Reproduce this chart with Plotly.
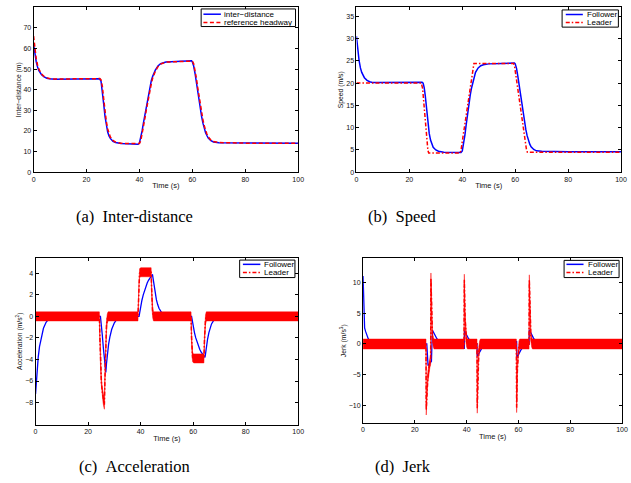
import plotly.graph_objects as go

W, H = 631, 483

# ---------------- (a) Inter-distance ----------------
dist_t = [0, 0.5, 1, 1.5, 2, 3, 4, 5, 6, 8, 15, 25, 25.5, 26, 26.5, 27, 27.5, 28, 28.5, 29,
          30, 31, 33, 36, 39.5, 40, 40.5, 41, 41.5, 42, 42.5, 43, 43.5, 44, 44.5, 45, 46, 47, 48, 50,
          55, 59.7, 60, 60.5, 61, 61.5, 62, 62.5, 63, 63.5, 64, 64.5, 65, 65.5, 66, 67, 68, 70, 80, 100]
dist_follow = [62, 57, 53.5, 51, 49.3, 47.3, 46.2, 45.6, 45.3, 45.1, 45.1, 45.3, 44, 39.5, 33, 27, 22.5, 19.5, 17.6, 16.4,
               15, 14.4, 13.9, 13.7, 13.6, 14.2, 16.5, 20, 23.8, 27.5, 31.5, 35, 38.5, 41.5, 44.5, 46.5, 49.5, 51.5, 52.6, 53.4,
               53.8, 54, 53.5, 51.5, 48, 43.5, 39, 34.5, 30.5, 27, 23.8, 21.2, 19.2, 17.8, 16.6, 15.3, 14.7, 14.3, 14.1, 14.0]
headway_ref = [66, 59.5, 55, 52, 50, 47.7, 46.4, 45.8, 45.4, 45.2, 45.2, 45.4, 44.8, 41.5, 35.5, 29.5, 24.5, 21, 18.6, 17.1,
               15.4, 14.6, 14, 13.8, 13.7, 13.9, 15.2, 18.2, 21.8, 25.6, 29.5, 33.3, 36.8, 40, 43, 45.6, 49, 51.2, 52.4, 53.4,
               53.8, 54.1, 53.9, 52.6, 49.8, 45.8, 41.3, 36.8, 32.6, 28.8, 25.4, 22.5, 20.2, 18.5, 17.2, 15.6, 14.9, 14.4, 14.1, 14.0]

# ---------------- (b) Speed ----------------
speed_t = [0, 0.5, 1, 1.5, 2, 3, 4, 5, 6, 8, 15, 24.8, 25.2, 25.6, 26, 26.5, 27, 27.5, 28, 28.5,
           29, 30, 31, 33, 39.5, 40, 40.5, 41, 41.5, 42, 42.5, 43, 43.5, 44, 44.5, 45, 46, 47, 48, 50,
           55, 59.7, 60, 60.5, 61, 61.5, 62, 62.5, 63, 63.5, 64, 64.5, 65, 65.5, 66, 67, 68, 70, 80, 100]
speed_follow = [30.5, 27.3, 25.0, 23.4, 22.4, 21.2, 20.6, 20.3, 20.15, 20.1, 20.1, 20.2, 20.0, 19.0, 17.2, 14.0, 11.0, 8.7, 7.2, 6.2,
                5.6, 5.0, 4.7, 4.5, 4.4, 4.8, 6.3, 8.4, 10.8, 13.2, 15.4, 17.3, 18.9, 20.3, 21.5, 22.4, 23.4, 23.9, 24.1, 24.3,
                24.4, 24.5, 24.3, 23.3, 21.5, 19.4, 17.2, 15.0, 13.0, 11.2, 9.6, 8.2, 7.1, 6.3, 5.7, 5.1, 4.8, 4.7, 4.6, 4.6]
lead_speed_t = [0, 24.5, 25.0, 25.5, 26.0, 26.5, 27.0, 27.3, 39.2, 39.6, 44.0, 44.4, 59.4, 59.8, 64.2, 64.6, 100]
lead_speed = [20, 20, 18.8, 15.2, 11.2, 7.4, 4.9, 4.3, 4.3, 5.3, 23.6, 24.4, 24.4, 23.6, 5.3, 4.5, 4.5]

# ---------------- (c) Acceleration ----------------
acc_t = [0, 0.3, 0.6, 1, 1.5, 2, 2.5, 3, 4, 5, 6, 7, 24.7, 25, 25.4, 25.8, 26.2, 26.6, 26.75, 27,
         27.4, 27.8, 28.3, 29, 30, 31, 32, 33, 39.4, 39.7, 40, 40.5, 41, 41.5, 42, 42.5, 43, 43.5, 44, 44.5,
         44.7, 45, 45.5, 46, 46.5, 47, 48, 49, 50, 51, 59.4, 59.7, 60, 60.5, 61, 61.5, 62, 62.5, 63, 63.5,
         64, 64.5, 64.7, 65, 65.5, 66, 66.5, 67, 68, 69, 70, 71, 100]
acc_follow = [-7.2, -5.8, -4.8, -3.8, -2.8, -2.1, -1.5, -1.1, -0.55, -0.25, -0.1, 0, 0, -0.6, -1.7, -2.9, -4.1, -5.1, -5.2, -4.4,
              -3.4, -2.6, -1.9, -1.2, -0.6, -0.25, -0.05, 0, 0, 0.5, 0.9, 1.5, 2.0, 2.4, 2.8, 3.1, 3.35, 3.55, 3.75, 3.9,
              3.6, 3.0, 2.2, 1.55, 1.1, 0.75, 0.35, 0.12, 0.03, 0, 0, -0.5, -0.9, -1.5, -2.0, -2.4, -2.75, -3.05, -3.3, -3.5,
              -3.65, -3.8, -3.5, -2.9, -2.1, -1.5, -1.05, -0.7, -0.3, -0.1, -0.02, 0, 0]
lead_acc_t = [0, 24.3, 24.5, 24.7, 24.9, 25.1, 25.4, 25.7, 26.0, 26.2, 26.4, 26.6, 26.8, 27.0, 27.3, 27.6,
              39.0, 39.2, 39.4, 39.6, 40.0, 44.0, 44.2, 44.4, 44.6, 44.9,
              59.2, 59.4, 59.6, 59.8, 60.2, 64.1, 64.3, 64.5, 64.7, 65.0, 100]
lead_acc = [0, 0, -2, -4, -5.5, -6.3, -7.0, -7.6, -8.0, -8.2, -6.0, -3.8, -2.0, -0.9, -0.2, 0,
            0, 2.2, 3.5, 4.0, 4.1, 4.1, 2.5, 1.0, 0.3, 0,
            0, -2.0, -3.3, -3.8, -3.9, -3.9, -2.3, -0.9, -0.3, 0, 0]
lead_acc_noise = 0.42

# ---------------- (d) Jerk ----------------
jerk_t = [0, 0.2, 0.4, 0.6, 1, 1.5, 2, 2.5, 3, 4, 5, 6, 24.6, 24.8, 25.1, 25.5, 26, 26.4, 26.6, 26.8,
          27.2, 27.6, 28, 28.5, 29, 30, 31, 32, 33, 39.0, 39.1, 39.2, 39.7, 40.2, 40.7, 41.2, 41.7, 42.7, 43.7, 44.0,
          44.1, 44.6, 45.2, 45.7, 46.2, 46.7, 47.7, 48.7, 49.7, 59.2, 59.3, 59.4, 59.9, 60.4, 60.9, 61.4, 61.9, 62.9, 63.9, 64.1,
          64.2, 64.7, 65.3, 65.8, 66.3, 66.8, 67.8, 68.8, 69.8, 100]
jerk_follow = [11, 6, 3.3, 2.6, 2.0, 1.35, 0.85, 0.55, 0.32, 0.1, 0.02, 0, 0, -2.5, -3.5, -3.3, -3.0, -2.8, 0, 2.2,
               1.9, 1.5, 1.2, 0.85, 0.6, 0.3, 0.12, 0.04, 0, 0, -0.8, 2.1, 1.6, 1.2, 0.9, 0.6, 0.4, 0.15, 0.05, 0.05,
               -2.0, -1.55, -1.1, -0.8, -0.55, -0.38, -0.15, -0.05, 0, 0, 0.5, -2.2, -1.7, -1.3, -1.0, -0.7, -0.5, -0.2, -0.06, -0.06,
               2.3, 1.8, 1.3, 0.95, 0.65, 0.45, 0.18, 0.06, 0, 0]
lead_jerk_t = [0, 24.3, 24.4, 24.7, 25.0, 25.4, 25.8, 26.1, 26.2, 26.5, 26.8, 27.1, 27.4,
               39.0, 39.1, 39.4, 39.7, 40.0, 40.3, 44.0, 44.1, 44.4, 44.7, 45.0, 45.3,
               59.2, 59.3, 59.6, 59.9, 60.2, 60.5, 64.1, 64.2, 64.5, 64.8, 65.1, 65.4, 100]
lead_jerk = [0, 0, -10.7, -7.5, -5.5, -4.0, -3.0, -2.5, 10.7, 4.0, 1.2, 0.3, 0,
             0, 10.5, 4.0, 1.2, 0.3, 0, 0, -10.4, -4.0, -1.2, -0.3, 0,
             0, -10.3, -4.0, -1.2, -0.3, 0, 0, 10.4, 4.0, 1.2, 0.3, 0, 0]
lead_jerk_noise = 0.8

x_ticks = [0, 20, 40, 60, 80, 100]
captions = ["(a)\u00a0\u00a0Inter-distance", "(b)\u00a0\u00a0Speed", "(c)\u00a0\u00a0Acceleration", "(d)\u00a0\u00a0Jerk"]

BLUE = "#0000FF"
RED = "#FF0000"
DASHDOT = "4px,2px,1.5px,2px"
DASH = "4px,2.5px"


def PX(x):
    return x / W


def PY(y):
    return 1 - y / H


def band(t, v, half):
    hi = [a + half for a in v]
    lo = [a - half for a in v]
    return t + t[::-1], hi + lo[::-1]


fig = go.Figure()

# (a)
fig.add_trace(go.Scatter(x=dist_t, y=dist_follow, mode="lines", name="inter\u2212distance",
                         line=dict(color=BLUE, width=1.5), xaxis="x", yaxis="y"))
fig.add_trace(go.Scatter(x=dist_t, y=headway_ref, mode="lines", name="reference headway",
                         line=dict(color=RED, width=1.5, dash=DASH), xaxis="x", yaxis="y"))
# (b)
fig.add_trace(go.Scatter(x=speed_t, y=speed_follow, mode="lines", name="Follower",
                         line=dict(color=BLUE, width=1.5), xaxis="x2", yaxis="y2"))
fig.add_trace(go.Scatter(x=lead_speed_t, y=lead_speed, mode="lines", name="Leader",
                         line=dict(color=RED, width=1.5, dash=DASHDOT), xaxis="x2", yaxis="y2"))
# (c)
fig.add_trace(go.Scatter(x=acc_t, y=acc_follow, mode="lines", name="Follower",
                         line=dict(color=BLUE, width=1.3), xaxis="x3", yaxis="y3"))
bx, by = band(lead_acc_t, lead_acc, lead_acc_noise)
fig.add_trace(go.Scatter(x=bx, y=by, mode="lines", fill="toself", fillcolor=RED,
                         line=dict(color=RED, width=0.5), hoverinfo="skip", showlegend=False,
                         xaxis="x3", yaxis="y3"))
fig.add_trace(go.Scatter(x=lead_acc_t, y=lead_acc, mode="lines", name="Leader",
                         line=dict(color=RED, width=1.5, dash=DASHDOT), xaxis="x3", yaxis="y3"))
# (d)
fig.add_trace(go.Scatter(x=jerk_t, y=jerk_follow, mode="lines", name="Follower",
                         line=dict(color=BLUE, width=1.3), xaxis="x4", yaxis="y4"))
bx, by = band(lead_jerk_t, lead_jerk, lead_jerk_noise)
fig.add_trace(go.Scatter(x=bx, y=by, mode="lines", fill="toself", fillcolor=RED,
                         line=dict(color=RED, width=0.5), hoverinfo="skip", showlegend=False,
                         xaxis="x4", yaxis="y4"))
fig.add_trace(go.Scatter(x=lead_jerk_t, y=lead_jerk, mode="lines", name="Leader",
                         line=dict(color=RED, width=1.5, dash=DASHDOT), xaxis="x4", yaxis="y4"))

tickfont = dict(family="Liberation Sans, Arial, sans-serif", size=7, color="#111")
titlefont = dict(family="Liberation Sans, Arial, sans-serif", size=7.5, color="#111")


def xax(domain, anchor):
    return dict(domain=domain, anchor=anchor, range=[0, 100], tickvals=x_ticks,
                showline=True, linecolor="black", linewidth=1, mirror="ticks",
                ticks="inside", ticklen=3, tickcolor="black", tickwidth=1,
                showgrid=False, zeroline=False, tickfont=tickfont,
                title=dict(text="Time (s)", font=titlefont, standoff=1))


def yax(domain, anchor, rng, tv, title):
    return dict(domain=domain, anchor=anchor, range=rng, tickvals=tv,
                showline=True, linecolor="black", linewidth=1, mirror="ticks",
                ticks="inside", ticklen=3, tickcolor="black", tickwidth=1,
                showgrid=False, zeroline=False, tickfont=tickfont,
                title=dict(text=title, font=dict(family="Liberation Sans, Arial, sans-serif", size=6.8, color="#111"),
                           standoff=1))


fig.update_layout(
    width=W, height=H, autosize=False, showlegend=False,
    margin=dict(l=0, r=0, t=0, b=0),
    paper_bgcolor="white", plot_bgcolor="white",
    xaxis=xax([PX(32), PX(300)], "y"),
    yaxis=yax([PY(173.3), PY(7.3)], "x", [0, 80], [0, 10, 20, 30, 40, 50, 60, 70], "Inter\u2212distance (m)"),
    xaxis2=xax([PX(359), PX(627)], "y2"),
    yaxis2=yax([PY(173.3), PY(7.3)], "x2", [0, 37], [0, 5, 10, 15, 20, 25, 30, 35], "Speed (m/s)"),
    xaxis3=xax([PX(34), PX(300)], "y3"),
    yaxis3=yax([PY(427.3), PY(259.3)], "x3", [-10.05, 5.45], [-8, -6, -4, -2, 0, 2, 4], "Acceleration (m/s<sup>2</sup>)"),
    xaxis4=xax([PX(365.7), PX(628)], "y4"),
    yaxis4=yax([PY(425.7), PY(260)], "x4", [-12.8, 13.86], [-10, -5, 0, 5, 10], "Jerk (m/s<sup>3</sup>)"),
)

# Legends (MATLAB-style compact boxes)
legends = [
    ((201.7, 9, 297.3, 26.7), (204, 221.7), (14.3, 22.7), 222.7,
     [("inter\u2212distance", BLUE, "solid"), ("reference headway", RED, DASH)]),
    ((567.3, 10, 624.3, 27.3), (571, 588.3), (14.6, 22.7), 590.3,
     [("Follower", BLUE, "solid"), ("Leader", RED, DASHDOT)]),
    ((240.7, 261.7, 296.7, 279.3), (244, 261.7), (266, 274.3), 263.3,
     [("Follower", BLUE, "solid"), ("Leader", RED, DASHDOT)]),
    ((569.3, 262, 625, 279.3), (571.7, 589), (266, 274.3), 591,
     [("Follower", BLUE, "solid"), ("Leader", RED, DASHDOT)]),
]
shapes = []
annotations = []
legfont = dict(family="Liberation Sans, Arial, sans-serif", size=8, color="black")
for (bx0, by0, bx1, by1), (lx0, lx1), rows, tx, entries in legends:
    shapes.append(dict(type="rect", xref="paper", yref="paper", x0=PX(bx0), x1=PX(bx1), y0=PY(by1), y1=PY(by0),
                       line=dict(color="black", width=1), fillcolor="white", layer="above"))
    for (label, col, dash), ry in zip(entries, rows):
        shapes.append(dict(type="line", xref="paper", yref="paper", x0=PX(lx0), x1=PX(lx1), y0=PY(ry), y1=PY(ry),
                           line=dict(color=col, width=1.5, dash=dash), layer="above"))
        annotations.append(dict(text=label, xref="paper", yref="paper", x=PX(tx), y=PY(ry),
                                xanchor="left", yanchor="middle", showarrow=False, font=legfont))

cap_pos = [(134, 217.5), (405.8, 217.5), (134.7, 469), (405.8, 469)]
for txt, (cx, cy) in zip(captions, cap_pos):
    annotations.append(dict(text=txt, xref="paper", yref="paper", x=PX(cx), y=PY(cy),
                            xanchor="center", yanchor="middle", showarrow=False,
                            font=dict(family="Liberation Serif, Times New Roman, serif", size=16.5, color="black")))

fig.update_layout(shapes=shapes, annotations=annotations)
fig.write_html("out.html", config={"displayModeBar": False},
               post_script="document.body.style.margin='0';document.body.style.overflow='hidden';")
